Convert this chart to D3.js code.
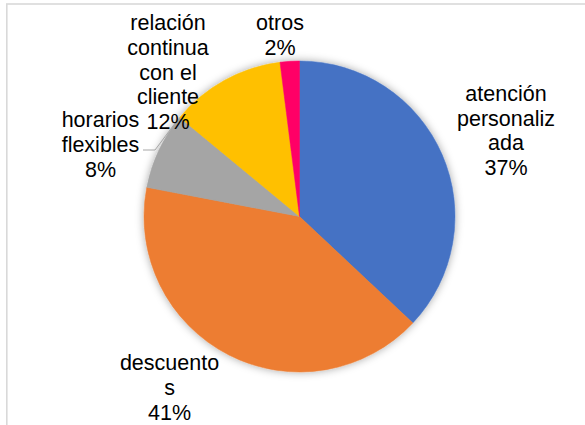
<!DOCTYPE html>
<head>
<meta charset="utf-8">
<script src="https://d3js.org/d3.v7.min.js"></script>
<style>
  body { margin: 0; background: #fff; }
</style>
</head>
<body>
<div id="datavis"></div>

<script type="text/javascript">
    // data
    var categories = ["atención personalizada", "descuentos", "horarios flexibles", "relación continua con el cliente", "otros"];
    var values = [37, 41, 8, 12, 2];
    var colors = ["#4472C4", "#ED7D31", "#A5A5A5", "#FFC000", "#FF0066"];
    // label lines as they wrap in the picture
    var labelLines = [
        ["atención", "personaliz", "ada", "37%"],
        ["descuento", "s", "41%"],
        ["horarios", "flexibles", "8%"],
        ["relación", "continua", "con el", "cliente", "12%"],
        ["otros", "2%"]
    ];

    var width = 585, height = 425;
    var cx = 299.5, cy = 216.5, radius = 155.5;
    // centre of each label block
    var labelPos = [[506, 130], [169.5, 387], [100.5, 144], [168, 71.5], [280, 34.5]];
    var lineH = 24.6;

    var svg = d3.select("#datavis")
                .append("svg")
                .attr("width", width)
                .attr("height", height);

    // chart frame
    svg.append("rect")
       .attr("x", 6.8).attr("y", 4)
       .attr("width", width + 10).attr("height", height + 10)
       .attr("fill", "#fff")
       .attr("stroke", "#d9d9d9")
       .attr("stroke-width", 1.6);

    var defs = svg.append("defs");
    var f = defs.append("filter").attr("id", "shadow")
                .attr("x", "-20%").attr("y", "-20%").attr("width", "140%").attr("height", "140%");
    f.append("feDropShadow")
     .attr("dx", 0).attr("dy", 0)
     .attr("stdDeviation", 4)
     .attr("flood-color", "#000")
     .attr("flood-opacity", 0.35);

    var pie = d3.pie().sort(null).value(function(d) { return d; });
    var arc = d3.arc().innerRadius(0).outerRadius(radius);
    var arcs = pie(values);

    var g = svg.append("g")
               .attr("transform", "translate(" + cx + "," + cy + ")");

    g.append("g")
     .attr("filter", "url(#shadow)")
     .selectAll("path")
     .data(arcs)
     .enter()
     .append("path")
     .attr("d", arc)
     .attr("fill", function(d, i) { return colors[i]; })
     .attr("stroke", function(d, i) { return colors[i]; })
     .attr("stroke-width", 0.5);

    // leader line for horarios flexibles
    var a = arcs[2].startAngle + (arcs[2].endAngle - arcs[2].startAngle) * 0.93;
    var px = cx + Math.sin(a) * radius, py = cy - Math.cos(a) * radius;
    svg.append("polyline")
       .attr("points", [[143, 150], [155, 150], [px, py]].map(function(p) { return p.join(","); }).join(" "))
       .attr("fill", "none")
       .attr("stroke", "#a6a6a6")
       .attr("stroke-width", 1);

    // labels
    labelLines.forEach(function(lines, i) {
        var top = labelPos[i][1] - (lines.length - 1) * lineH / 2;
        svg.append("text")
           .attr("text-anchor", "middle")
           .attr("font-family", "'Liberation Sans', Arial, sans-serif")
           .attr("font-size", 21.5)
           .attr("fill", "#000")
           .selectAll("tspan")
           .data(lines)
           .enter()
           .append("tspan")
           .attr("x", labelPos[i][0])
           .attr("y", function(d, j) { return top + j * lineH + 8; })
           .text(function(d) { return d; });
    });
</script>
</body>
